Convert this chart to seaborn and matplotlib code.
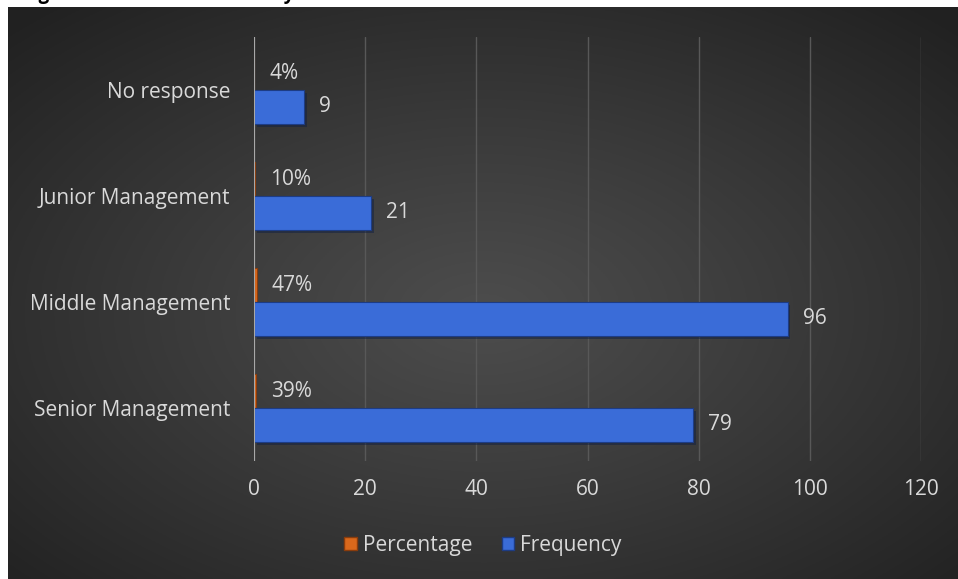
import numpy as np
import pandas as pd
import matplotlib
matplotlib.use("Agg")
import matplotlib.pyplot as plt
import matplotlib.patheffects as pe
from matplotlib.patches import Patch
import seaborn as sns

categories = ["No response", "Junior Management", "Middle Management", "Senior Management"]
frequency = [9, 21, 96, 79]
percentage = [4, 10, 47, 39]
series_names = ["Percentage", "Frequency"]
x_ticks = [0, 20, 40, 60, 80, 100, 120]
title_text = "Management level of the staff by"

sns.set_theme(style="dark")
plt.rcParams["font.family"] = ["Open Sans", "DejaVu Sans"]

W, H = 958, 579
fig = plt.figure(figsize=(W / 100, H / 100), dpi=100)
fig.patch.set_facecolor("white")

# title (mostly cut off at the top, as in the source)
fig.text(-14 / W, 1 + 1 / H, title_text, fontsize=13.5, fontweight="bold",
         color="black", ha="left", va="baseline")

# dark radial gradient chart area
bg = fig.add_axes([8 / W, 0, (W - 8) / W, (H - 7) / H])
yy, xx = np.mgrid[0:300, 0:500]
cx, cy = 250, 160
r = np.sqrt(((xx - cx) / 250) ** 2 + ((yy - cy) / 150) ** 2) / np.sqrt(2)
c0, c1 = np.array([0.30, 0.30, 0.30]), np.array([0.13, 0.13, 0.13])
img = c0[None, None, :] + (c1 - c0)[None, None, :] * np.clip(r, 0, 1)[:, :, None] ** 1.1
bg.imshow(img, aspect="auto", extent=[0, 1, 0, 1])
bg.set_axis_off()

ax = fig.add_axes([254 / W, 1 - 461 / H, (921 - 254) / W, (461 - 37) / H])
ax.set_facecolor("none")

df = pd.DataFrame({
    "category": categories * 2,
    "series": [series_names[0]] * 4 + [series_names[1]] * 4,
    "value": [p / 100 for p in percentage] + frequency,
})
palette = {"Percentage": "#D9681C", "Frequency": "#3A6CD8"}
edge = {"Percentage": "#8a3c0c", "Frequency": "#1d3c85"}
sns.barplot(data=df, x="value", y="category", hue="series", hue_order=series_names,
            order=categories, palette=palette, width=0.64, orient="h", ax=ax,
            legend=False, saturation=1, linewidth=0.8)

bars = [p for p in ax.patches if p.get_height() > 0]
pct_bars = sorted([p for p in bars if p.get_width() < 1], key=lambda p: p.get_y())
freq_bars = sorted([p for p in bars if p.get_width() >= 1], key=lambda p: p.get_y())
for p in pct_bars:
    p.set_edgecolor(edge["Percentage"])
for p in freq_bars:
    p.set_edgecolor(edge["Frequency"])
    p.set_path_effects([pe.SimplePatchShadow(offset=(2, -2), alpha=0.5), pe.Normal()])

ax.set_xlim(0, 120)
ax.set_xticks(x_ticks)
ax.xaxis.grid(True, color="#585858", linewidth=1)
ax.yaxis.grid(False)
ax.axvline(0, color="#a8a8a8", linewidth=1.5, zorder=3)
for s in ax.spines.values():
    s.set_visible(False)
ax.set_xlabel("")
ax.set_ylabel("")
ax.tick_params(axis="both", length=0, colors="#d9d9d9", labelsize=15)
ax.tick_params(axis="x", pad=13)
ax.tick_params(axis="y", pad=17)

for p, v in zip(pct_bars, percentage):
    ax.annotate(f"{v}%", (p.get_width(), p.get_y() + p.get_height() / 2),
                xytext=(11, 0), textcoords="offset points", va="center", ha="left",
                color="#d9d9d9", fontsize=15)
for p, v in zip(freq_bars, frequency):
    ax.annotate(f"{v}", (p.get_width(), p.get_y() + p.get_height() / 2),
                xytext=(11, 0), textcoords="offset points", va="center", ha="left",
                color="#d9d9d9", fontsize=15)

handles = [Patch(facecolor=palette[s], edgecolor=edge[s]) for s in series_names]
fig.legend(handles, series_names, loc="center", bbox_to_anchor=(483 / W, 1 - 545 / H),
           ncol=2, frameon=False, fontsize=15, labelcolor="#d9d9d9",
           handlelength=0.6, handleheight=0.6, handletextpad=0.3, columnspacing=1.4)

fig.savefig("out.png", dpi=100)
